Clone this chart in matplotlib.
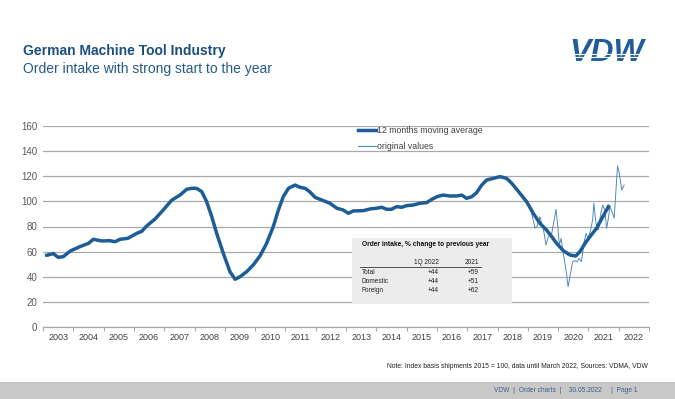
import matplotlib
matplotlib.use("Agg")
import matplotlib.pyplot as plt
from matplotlib.patches import Rectangle
from matplotlib.lines import Line2D

plt.rcParams['font.family'] = ['Liberation Sans', 'DejaVu Sans']

# ---------------- data ----------------
ma_x = [2003.07, 2003.34, 2003.5, 2003.67, 2003.9, 2004.22, 2004.5, 2004.66, 2004.94, 2005.2,
        2005.38, 2005.54, 2005.8, 2006.1, 2006.26, 2006.42, 2006.7, 2006.97, 2007.25, 2007.52,
        2007.74, 2007.9, 2008.07, 2008.24, 2008.4, 2008.57, 2008.73, 2008.95, 2009.17, 2009.34,
        2009.5, 2009.72, 2009.94, 2010.16, 2010.38, 2010.6, 2010.77, 2010.93, 2011.1, 2011.32,
        2011.48, 2011.65, 2011.8, 2011.98, 2012.25, 2012.47, 2012.7, 2012.9, 2013.08, 2013.24,
        2013.57, 2013.8, 2014.0, 2014.18, 2014.34, 2014.5, 2014.67, 2014.84, 2015.0, 2015.22,
        2015.44, 2015.66, 2015.83, 2016.0, 2016.2, 2016.43, 2016.65, 2016.82, 2016.98, 2017.15,
        2017.31, 2017.48, 2017.64, 2017.86, 2018.08, 2018.3, 2018.47, 2018.74, 2018.96, 2019.18,
        2019.4, 2019.62, 2019.79, 2019.95, 2020.17, 2020.39, 2020.58, 2020.72, 2020.89, 2021.05,
        2021.27, 2021.49, 2021.69]
ma_y = [56.8, 58.4, 55.5, 56, 60.5, 64, 66.6, 69.8, 68.5, 68.7,
        67.9, 69.8, 70.6, 74.6, 76.2, 80.4, 86, 93.2, 101, 105,
        109.6, 110.4, 110.4, 107.7, 99.8, 87.8, 74.6, 58.7, 44, 38,
        40, 44, 49.4, 56.5, 66.6, 79.9, 93.2, 103.7, 110.4, 113,
        111.2, 110.4, 107.7, 103.2, 100.6, 98.5, 94.5, 93.2, 90.5, 92.4,
        92.6, 94, 94.5, 95.3, 93.7, 93.7, 95.8, 95.3, 96.6, 97.1,
        98.5, 99, 101.6, 103.7, 105, 104.3, 104.3, 105, 102.4, 103.7,
        106.9, 113, 117, 118.3, 119.7, 118.3, 114.4, 106.4, 99.8, 90.5,
        82.5, 77.2, 71.9, 66.6, 60.8, 57.3, 56.5, 60, 66.6, 71.9,
        78.6, 88.4, 97.1]

orig_x = [2018.96, 2019.1, 2019.24, 2019.3, 2019.4, 2019.52, 2019.6, 2019.68, 2019.79, 2019.87,
          2019.93, 2019.98, 2020.04, 2020.1, 2020.17, 2020.26, 2020.33, 2020.41, 2020.48, 2020.55,
          2020.63, 2020.69, 2020.77, 2020.85, 2020.92, 2020.99, 2021.07, 2021.14, 2021.18, 2021.25,
          2021.33, 2021.4, 2021.47, 2021.54, 2021.6, 2021.66, 2021.71, 2021.78, 2021.85, 2021.91,
          2021.96, 2022.02, 2022.1, 2022.18]
orig_y = [99.8, 93, 78.6, 79.9, 87.8, 77.2, 65.3, 71.9, 74.6, 85.2,
          93.7, 82.5, 65.3, 70.6, 58.7, 45.4, 32.1, 42.7, 52, 52.8,
          52, 54.7, 52, 66.6, 74.6, 70.6, 77.2, 85.2, 98.5, 82.5,
          77.2, 89.2, 97.1, 93.2, 78.6, 86.6, 95.8, 91.8, 86.6, 109,
          128.2, 122.4, 109, 113]

years = list(range(2003, 2023))
yticks = [0, 20, 40, 60, 80, 100, 120, 140, 160]

table_title = "Order intake, % change to previous year"
table_cols = ["1Q 2022", "2021"]
table_rows = ["Total", "Domestic", "Foreign"]
table_q = ["+44", "+44", "+44"]
table_y = ["+59", "+51", "+62"]

BLUE = '#1d5d97'
THIN = '#5289bb'
W, H = 675, 399


def fx(px):
    return px / W


def fy(py):
    return 1 - py / H


fig = plt.figure(figsize=(W / 100, H / 100), dpi=100)
fig.patch.set_facecolor('white')

ax = fig.add_axes([fx(43), fy(327), (649 - 43) / W, (327 - 126) / H])
ax.set_xlim(2003, 2023)
ax.set_ylim(0, 160)

ax.plot(orig_x, orig_y, color=THIN, lw=0.7, zorder=3, label='original values')
ax.plot(ma_x, ma_y, color=BLUE, lw=2.5, zorder=4, solid_capstyle='butt',
        label='12 months moving average')

ax.set_yticks(yticks)
ax.yaxis.grid(True, color='#a9a9a9', lw=0.9)
ax.set_axisbelow(True)
for s in ['left', 'right', 'top']:
    ax.spines[s].set_visible(False)
ax.spines['bottom'].set_color('#a9a9a9')
ax.spines['bottom'].set_linewidth(0.9)
ax.tick_params(axis='y', length=0, pad=4, labelsize=7, labelcolor='#595959')

ax.set_xticks(years + [2023])
ax.set_xticklabels([])
ax.set_xticks([y + 0.5 for y in years], minor=True)
ax.set_xticklabels([str(y) for y in years], minor=True)
ax.tick_params(axis='x', which='major', length=3, color='#a9a9a9', direction='out')
ax.tick_params(axis='x', which='minor', length=0, pad=4, labelsize=6.5, labelcolor='#404040')

# legend
handles = [Line2D([], [], color=BLUE, lw=2.5), Line2D([], [], color=THIN, lw=0.8)]
leg = ax.legend(handles, ['12 months moving average', 'original values'], loc='upper left',
                bbox_to_anchor=(fx(354), fy(122)), bbox_transform=fig.transFigure,
                frameon=False, fontsize=6.3, handlelength=2.0, handletextpad=0.1,
                labelspacing=0.75, borderpad=0)
for t in leg.get_texts():
    t.set_color('#404040')

# table box
box = Rectangle((fx(352), fy(304)), (512 - 352) / W, (304 - 238) / H,
                transform=fig.transFigure, facecolor='#ececec', edgecolor='none', zorder=5)
fig.add_artist(box)
fig.text(fx(362), fy(245), table_title, fontsize=4.8, fontweight='bold', color='#111111',
         va='center', ha='left', zorder=6)
fig.text(fx(439), fy(263), table_cols[0], fontsize=4.7, color='#222222', va='center', ha='right', zorder=6)
fig.text(fx(479), fy(263), table_cols[1], fontsize=4.7, color='#222222', va='center', ha='right', zorder=6)
fig.add_artist(Line2D([fx(360), fx(481)], [fy(267), fy(267)], color='#333333', lw=0.6,
                      transform=fig.transFigure, zorder=6))
for i, (r, a, b) in enumerate(zip(table_rows, table_q, table_y)):
    yy = fy(272 + i * 9.5)
    fig.text(fx(362), yy, r, fontsize=4.7, color='#222222', va='center', ha='left', zorder=6)
    fig.text(fx(439), yy, a, fontsize=4.7, color='#222222', va='center', ha='right', zorder=6)
    fig.text(fx(479), yy, b, fontsize=4.7, color='#222222', va='center', ha='right', zorder=6)

# titles
fig.text(fx(23), fy(51), "German Machine Tool Industry", fontsize=10, fontweight='bold',
         color='#1b4f80', va='center', ha='left')
fig.text(fx(23), fy(69), "Order intake with strong start to the year", fontsize=10,
         color='#265a86', va='center', ha='left')

# logo
fig.text(fx(607), fy(53), "VDW", fontsize=23, fontweight='bold', fontstyle='italic',
         color='#1f5c99', va='center', ha='center')
for py in [53.5, 57.0, 60.5]:
    fig.add_artist(Line2D([fx(560), fx(655)], [fy(py), fy(py)], color='white', lw=0.8,
                          transform=fig.transFigure, zorder=7))

# note
fig.text(fx(648), fy(367), "Note: Index basis shipments 2015 = 100, data until March 2022, Sources: VDMA, VDW",
         fontsize=4.9, color='#222222', va='center', ha='right')

# footer band
fig.add_artist(Rectangle((0, 0), 1, (399 - 382) / H, transform=fig.transFigure,
                         facecolor='#c8c8c8', edgecolor='none', zorder=1))
fig.text(fx(638), fy(391), "VDW  |  Order charts  |    30.05.2022     |  Page 1",
         fontsize=4.8, color='#3c5f8f', va='center', ha='right', zorder=2)

fig.savefig('out.png', dpi=100)
